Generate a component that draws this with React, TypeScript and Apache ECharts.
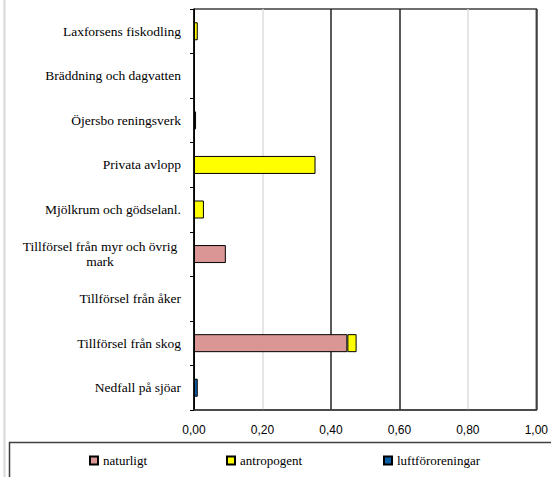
import React, { useEffect, useRef } from "react";
import * as echarts from "echarts";

// Source categories, listed top to bottom
const categories = [
  "Laxforsens fiskodling",
  "Bräddning och dagvatten",
  "Öjersbo reningsverk",
  "Privata avlopp",
  "Mjölkrum och gödselanl.",
  "Tillförsel från myr och övrig mark",
  "Tillförsel från åker",
  "Tillförsel från skog",
  "Nedfall på sjöar",
];

const seriesNames = ["naturligt", "antropogent", "luftföroreningar"];

// Contribution per source (null = no bar)
const naturligt = [null, null, null, null, null, 0.093, null, 0.448, null];
const antropogent = [0.011, null, 0.006, 0.355, 0.029, null, null, 0.027, null];
const luftfororeningar = [null, null, null, null, null, null, null, null, 0.011];

const xTicks = [0, 0.2, 0.4, 0.6, 0.8, 1.0];

const colors = ["#d99694", "#ffff00", "#0a5fa6"];

const SERIF = "Liberation Serif";
const SANS = "Liberation Sans";

export default function App() {
  const ref = useRef<HTMLDivElement>(null);

  useEffect(() => {
    if (!ref.current) return;
    const chart = echarts.init(ref.current, null, { renderer: "svg" });

    const barSeries = [naturligt, antropogent, luftfororeningar].map((data, i) => ({
      name: seriesNames[i],
      type: "bar" as const,
      stack: "total",
      data,
      barWidth: 18,
      itemStyle: { color: colors[i], borderColor: "#000", borderWidth: 1 },
    }));

    const legendLefts = [89, 226, 383];

    chart.setOption({
      animation: false,
      backgroundColor: "#fff",
      textStyle: { fontFamily: SERIF },
      grid: {
        left: 194,
        top: 9,
        right: 13,
        bottom: 67,
        show: true,
        borderColor: "#404040",
        borderWidth: 1.5,
      },
      xAxis: {
        type: "value",
        min: xTicks[0],
        max: xTicks[xTicks.length - 1],
        interval: 0.2,
        axisLine: { show: true, lineStyle: { color: "#404040", width: 1.5 } },
        axisTick: { show: false },
        axisLabel: {
          margin: 14,
          fontFamily: SANS,
          fontSize: 12,
          color: "#000",
          formatter: (v: number) => v.toFixed(2).replace(".", ","),
        },
        splitLine: {
          show: true,
          lineStyle: {
            width: 1.5,
            color: ["#000", "#dcdcdc", "#222", "#222", "#dcdcdc", "#404040"],
          },
        },
      },
      yAxis: {
        type: "category",
        inverse: true,
        data: categories,
        axisLine: { show: true, lineStyle: { color: "#000", width: 1 } },
        axisTick: { show: true, length: 4, lineStyle: { color: "#000" } },
        axisLabel: {
          margin: 13,
          fontFamily: SERIF,
          fontSize: 13.5,
          color: "#000",
          formatter: (v: string) =>
            v === "Tillförsel från myr och övrig mark"
              ? "{c|Tillförsel från myr och övrig}\n{c|mark}"
              : v,
          rich: {
            c: {
              width: 162,
              align: "center",
              lineHeight: 15,
              fontFamily: SERIF,
              fontSize: 13.5,
              color: "#000",
            },
          },
        },
      },
      legend: seriesNames.map((name, i) => ({
        data: [name],
        left: legendLefts[i],
        top: 454,
        padding: 0,
        itemWidth: 8,
        itemHeight: 8,
        icon: "rect",
        textStyle: { fontFamily: SERIF, fontSize: 13, color: "#000" },
      })),
      graphic: [
        {
          type: "line",
          shape: { x1: 4.5, y1: 0, x2: 4.5, y2: 477 },
          style: { stroke: "#d8d8d8", lineWidth: 2 },
          silent: true,
        },
        {
          type: "rect",
          shape: { x: 9.5, y: 442.5, width: 600, height: 60 },
          style: { fill: "none", stroke: "#404040", lineWidth: 1.5 },
          silent: true,
        },
      ],
      series: barSeries,
    });

    return () => chart.dispose();
  }, []);

  return (
    <div
      ref={ref}
      style={{ position: "fixed", left: 0, top: 0, width: 551, height: 477 }}
    />
  );
}
